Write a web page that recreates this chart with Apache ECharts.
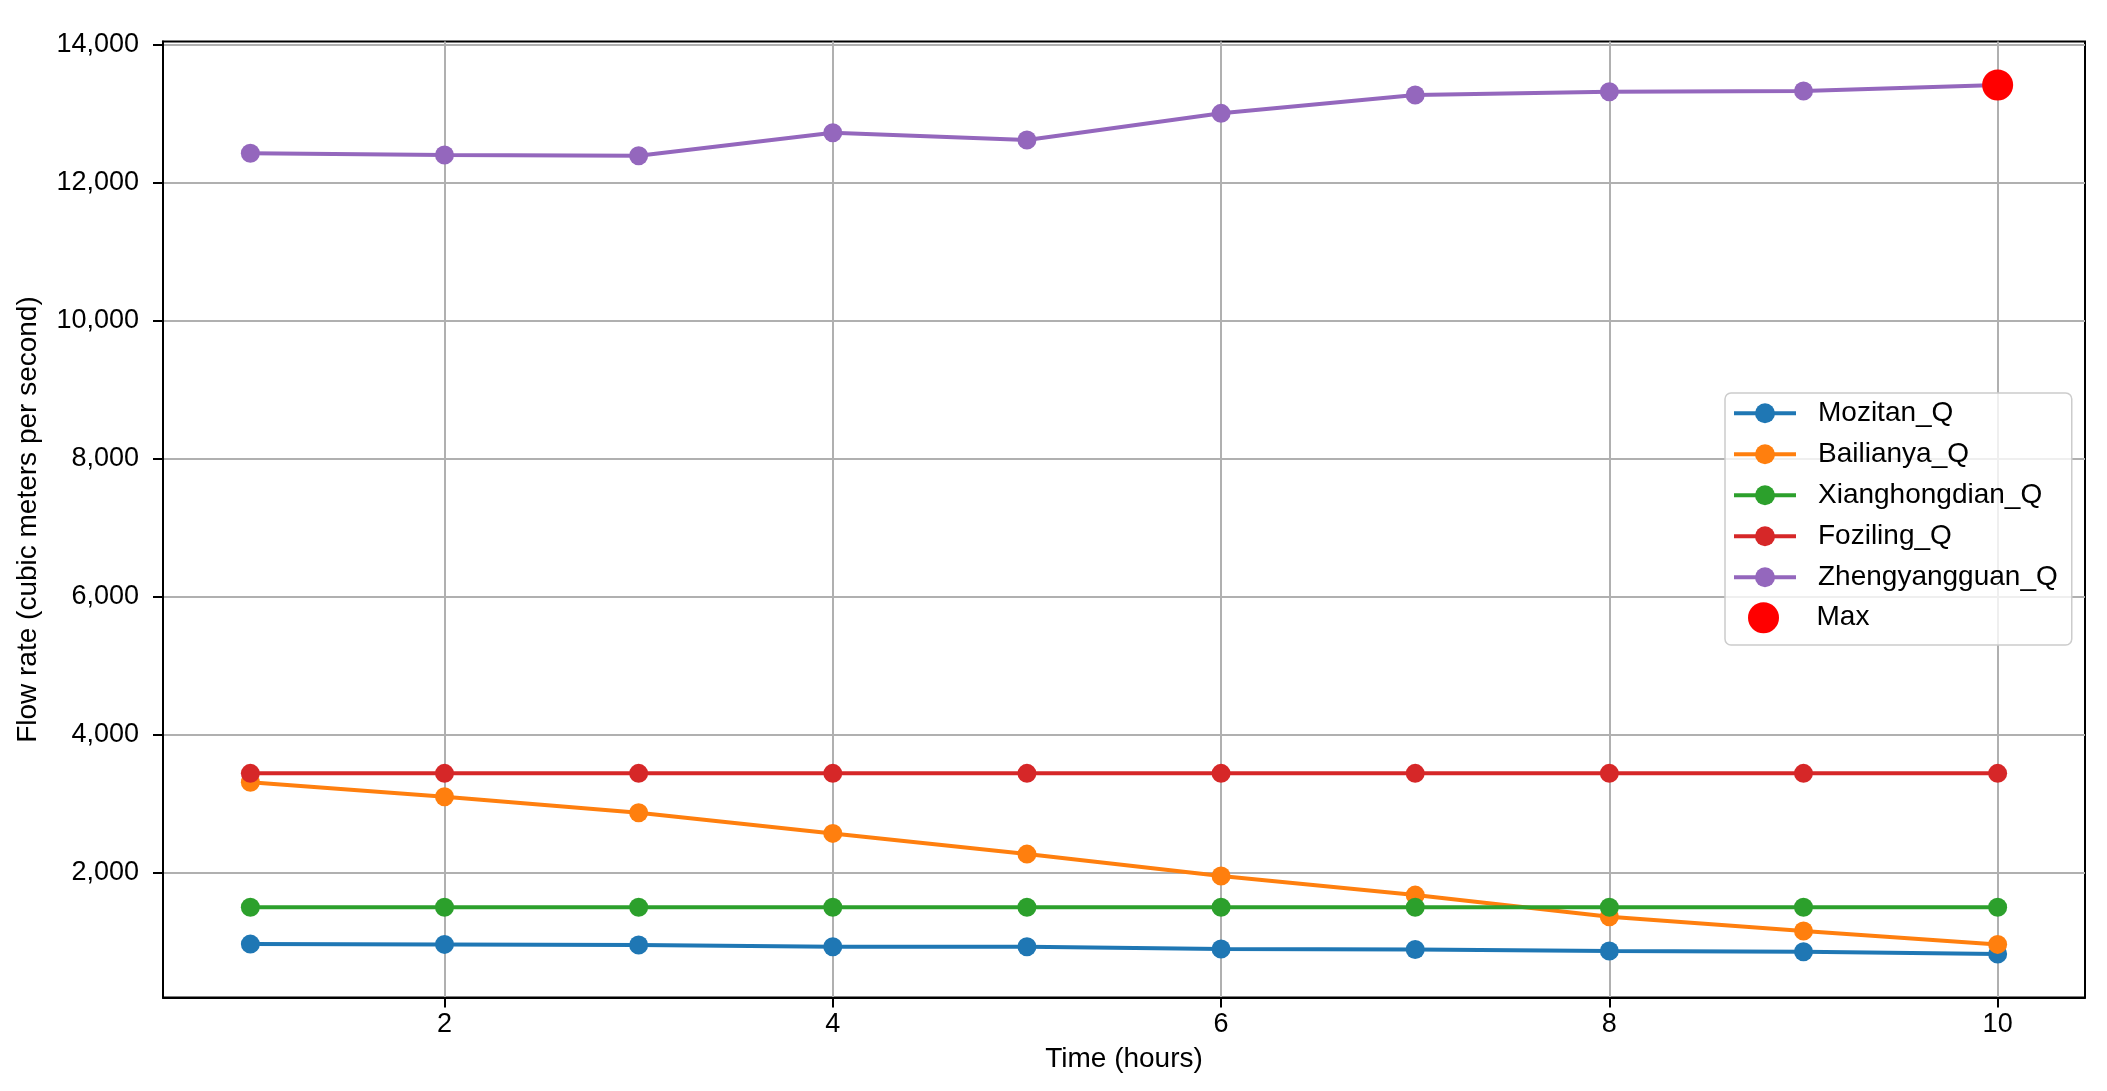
<!DOCTYPE html>
<html>
<head>
<meta charset="utf-8">
<script src="https://cdn.jsdelivr.net/npm/echarts@6/dist/echarts.min.js"></script>
<style>
  html, body { margin: 0; padding: 0; background: #ffffff; }
  #chart { width: 2107px; height: 1091px; }
</style>
</head>
<body>
<div id="chart"></div>
<script>
// ---- data ----
const hours = [1, 2, 3, 4, 5, 6, 7, 8, 9, 10];
const mozitanQ = [966, 962, 952, 928, 927, 894, 889, 865, 855, 822];
const bailianyaQ = [3310, 3101, 2869, 2570, 2270, 1952, 1676, 1362, 1155, 962];
const xianghongdianQ = [1500, 1500, 1500, 1500, 1500, 1500, 1500, 1500, 1500, 1500];
const fozilingQ = [3440, 3440, 3440, 3440, 3440, 3440, 3440, 3440, 3440, 3440];
const zhengyangguanQ = [12423, 12398, 12388, 12721, 12615, 13002, 13268, 13315, 13325, 13412];
const seriesNames = ['Mozitan_Q', 'Bailianya_Q', 'Xianghongdian_Q', 'Foziling_Q', 'Zhengyangguan_Q'];
const seriesColors = ['#1f77b4', '#ff7f0e', '#2ca02c', '#d62728', '#9467bd'];
const xTicks = [2, 4, 6, 8, 10];
const yTicks = [2000, 4000, 6000, 8000, 10000, 12000, 14000];
const maxLabel = 'Max';

const allSeries = [mozitanQ, bailianyaQ, xianghongdianQ, fozilingQ, zhengyangguanQ];

// matplotlib-style 5% margins
const allVals = allSeries.flat();
const dMin = Math.min(...allVals), dMax = Math.max(...allVals);
const yPad = 0.05 * (dMax - dMin);
const xPad = 0.05 * (hours[hours.length - 1] - hours[0]);

// max point
let maxVal = -Infinity, maxHour = null;
allSeries.forEach(arr => arr.forEach((v, i) => { if (v > maxVal) { maxVal = v; maxHour = hours[i]; } }));

const FONT = "'Liberation Sans', Arial, Helvetica, sans-serif";

const lineSeries = allSeries.map((vals, k) => ({
  type: 'line',
  name: seriesNames[k],
  data: hours.map((h, i) => [h, vals[i]]),
  symbol: 'circle',
  symbolSize: 19,
  showSymbol: true,
  showAllSymbol: true,
  lineStyle: { width: 4, color: seriesColors[k] },
  itemStyle: { color: seriesColors[k], opacity: 1 },
  emphasis: { disabled: true },
  z: 2 + k,
  animation: false
}));

const maxSeries = {
  type: 'scatter',
  name: maxLabel,
  data: [[maxHour, maxVal]],
  symbol: 'circle',
  symbolSize: 31,
  itemStyle: { color: '#ff0000', opacity: 1 },
  emphasis: { disabled: true },
  z: 10,
  animation: false
};

const chart = echarts.init(document.getElementById('chart'), null, { renderer: 'canvas' });
chart.setOption({
  backgroundColor: '#ffffff',
  animation: false,
  textStyle: { fontFamily: FONT },
  grid: {
    left: 163, right: 22, top: 41.6, bottom: 93.5,
    show: true, borderColor: '#000000', borderWidth: 2, backgroundColor: 'transparent',
    containLabel: false, outerBoundsMode: 'none'
  },
  xAxis: {
    type: 'value',
    min: hours[0] - xPad,
    max: hours[hours.length - 1] + xPad,
    splitNumber: 5,
    name: 'Time (hours)',
    nameLocation: 'middle',
    nameGap: 48,
    nameTextStyle: { fontSize: 28, color: '#000000', fontFamily: FONT },
    axisLine: { show: true, onZero: false, lineStyle: { color: '#000000', width: 2 } },
    axisTick: { show: true, inside: false, length: 10, customValues: xTicks, lineStyle: { color: '#000000', width: 2 } },
    axisLabel: { show: true, customValues: xTicks, margin: 14, fontSize: 27, color: '#000000', fontFamily: FONT },
    splitLine: { show: true, lineStyle: { color: '#b0b0b0', width: 2 } }
  },
  yAxis: {
    type: 'value',
    min: dMin - yPad,
    max: dMax + yPad,
    splitNumber: 7,
    name: 'Flow rate (cubic meters per second)',
    nameLocation: 'middle',
    nameRotate: 90,
    nameGap: 121,
    nameTextStyle: { fontSize: 28, color: '#000000', fontFamily: FONT },
    axisLine: { show: true, onZero: false, lineStyle: { color: '#000000', width: 2 } },
    axisTick: { show: true, inside: false, length: 10, customValues: yTicks, lineStyle: { color: '#000000', width: 2 } },
    axisLabel: {
      show: true, customValues: yTicks, margin: 24, fontSize: 27, color: '#000000', fontFamily: FONT,
      formatter: v => Number(v).toLocaleString('en-US')
    },
    splitLine: { show: true, lineStyle: { color: '#b0b0b0', width: 2 } }
  },
  legend: [
    {
      data: seriesNames,
      orient: 'vertical',
      left: 1725, top: 393,
      padding: [5.3, 14, 52.7, 7],
      itemWidth: 62, itemHeight: 25, itemGap: 11,
      selectedMode: false,
      backgroundColor: 'rgba(255,255,255,0.8)',
      borderColor: '#cccccc', borderWidth: 1.5, borderRadius: 6,
      lineStyle: { width: 4 },
      itemStyle: { opacity: 1 },
      textStyle: { fontSize: 28, lineHeight: 30, color: '#000000', fontFamily: FONT, padding: [0, 0, 0, 17] }
    },
    {
      data: [maxLabel],
      orient: 'vertical',
      left: 1748, top: 602.2,
      padding: 0,
      itemWidth: 62, itemHeight: 31,
      selectedMode: false,
      itemStyle: { opacity: 1 },
      textStyle: { fontSize: 28, lineHeight: 31, color: '#000000', fontFamily: FONT, padding: [0, 0, 0, 17] }
    }
  ],
  series: [...lineSeries, maxSeries]
});
</script>
</body>
</html>
